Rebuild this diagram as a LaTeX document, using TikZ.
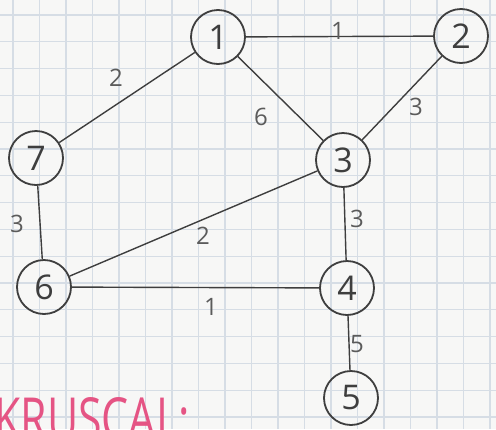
\documentclass[tikz,border=0pt]{standalone}
\usepackage{fontspec}
\setmainfont{Open Sans}
\usetikzlibrary{positioning}
\definecolor{pencil}{RGB}{62, 62, 62}
\definecolor{gridblue}{RGB}{214, 221, 229}
\definecolor{paper}{RGB}{247, 247, 246}
\definecolor{markerpink}{RGB}{229, 84, 132}
\tikzset{
  vertex/.style={circle, draw=pencil, line width=1.8pt, minimum size=54pt, inner sep=0pt, text=pencil, font=\fontsize{34}{34}\selectfont},
  weight/.style={inner sep=0pt, text=pencil!85, font=\fontsize{24}{24}\selectfont},
  link/.style={draw=pencil, line width=1.4pt}
}

\begin{document}
\begin{tikzpicture}[x=1pt, y=-1pt]
    \useasboundingbox (0,0) rectangle (496,429);
    \clip (0,0) rectangle (496,429);
    \fill[paper] (0,0) rectangle (496,429);
    % Squared paper
    \foreach \gx in {0,...,18} \draw[gridblue, line width=1.3pt] ({13+26.5*\gx},0) -- ++(0,429);
    \foreach \gy in {0,...,15} \draw[gridblue, line width=1.3pt] (0,{15+26.8*\gy}) -- ++(496,0);
    % Vertices
    \node[vertex] (n1) at (218, 37) {1};
    \node[vertex] (n2) at (461, 36) {2};
    \node[vertex] (n3) at (343, 160) {3};
    \node[vertex] (n7) at (36, 158) {7};
    \node[vertex] (n6) at (44, 287) {6};
    \node[vertex] (n4) at (347, 288) {4};
    \node[vertex] (n5) at (351, 398) {5};
    % Edges
    \draw[link] (n1) -- (n2);
    \draw[link] (n1) -- (n7);
    \draw[link] (n1) -- (n3);
    \draw[link] (n2) -- (n3);
    \draw[link] (n7) -- (n6);
    \draw[link] (n3) -- (n6);
    \draw[link] (n3) -- (n4);
    \draw[link] (n6) -- (n4);
    \draw[link] (n4) -- (n5);
    % Weights
    \node[weight] (w12) at (338, 31) {1};
    \node[weight] (w17) at (116, 78) {2};
    \node[weight] (w13) at (261, 117) {6};
    \node[weight] (w23) at (416, 107) {3};
    \node[weight] (w76) at (17, 224) {3};
    \node[weight] (w36) at (203, 236) {2};
    \node[weight] (w34) at (357, 219) {3};
    \node[weight] (w64) at (211, 307) {1};
    \node[weight] (w45) at (357, 344) {5};
    % Title, cut by the page edge
    \node[anchor=north west, inner sep=0pt, text=markerpink, font=\fontsize{58}{58}\selectfont] (title) at (-6, 397) {\scalebox{0.74}[1]{KRUSCAL:}};
\end{tikzpicture}
\end{document}
